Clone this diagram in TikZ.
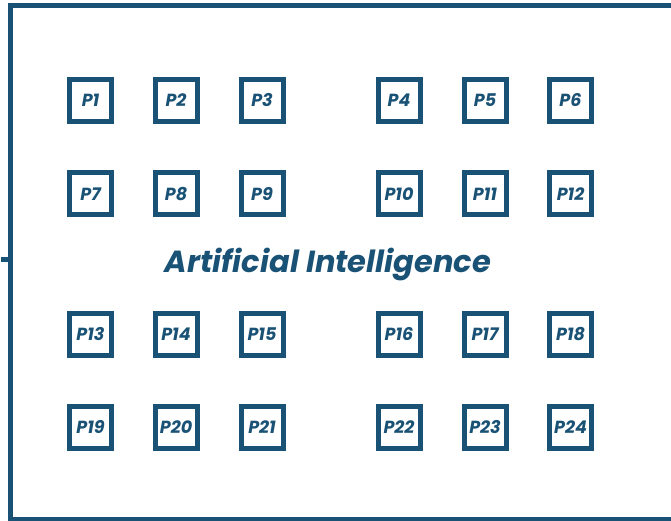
\documentclass[tikz,border=0pt]{standalone}
\usepackage{fontspec}
\setmainfont{Poppins}
\usepackage{tikz}
\usetikzlibrary{positioning}

\definecolor{aiblue}{HTML}{1A5276}

\tikzset{
	pbox/.style = {draw = aiblue, text = aiblue, line width = 5pt, rectangle, minimum size = 42pt, inner sep = 0pt, font = \fontsize{17.5}{17.5}\selectfont\bfseries\itshape},
	frame/.style = {draw = aiblue, line width = 5pt}
}

\begin{document}
\begin{tikzpicture}[x = 1pt, y = -1pt]
				\clip (0, 0) rectangle (671, 521);
				
				% Frame
				\draw[frame] (10, 5.8) rectangle (700, 519);
				\draw[frame] (1, 259) -- (10, 259);
				
				% Title
				\node[text = aiblue, font = \fontsize{30.5}{30.5}\selectfont\bfseries\itshape] (ai) at (328, 264) {Artificial Intelligence};
				
				% Nodes
				\node[pbox] (p1) at (90.5, 100.5) {P1};
				\node[pbox] (p2) at (176, 100.5) {P2};
				\node[pbox] (p3) at (262, 100.5) {P3};
				\node[pbox] (p4) at (399, 100.5) {P4};
				\node[pbox] (p5) at (485, 100.5) {P5};
				\node[pbox] (p6) at (570.5, 100.5) {P6};
				
				\node[pbox] (p7) at (90.5, 194) {P7};
				\node[pbox] (p8) at (176, 194) {P8};
				\node[pbox] (p9) at (262, 194) {P9};
				\node[pbox] (p10) at (399, 194) {P10};
				\node[pbox] (p11) at (485, 194) {P11};
				\node[pbox] (p12) at (570.5, 194) {P12};
				
				\node[pbox] (p13) at (90.5, 334) {P13};
				\node[pbox] (p14) at (176, 334) {P14};
				\node[pbox] (p15) at (262, 334) {P15};
				\node[pbox] (p16) at (399, 334) {P16};
				\node[pbox] (p17) at (485, 334) {P17};
				\node[pbox] (p18) at (570.5, 334) {P18};
				
				\node[pbox] (p19) at (90.5, 427) {P19};
				\node[pbox] (p20) at (176, 427) {P20};
				\node[pbox] (p21) at (262, 427) {P21};
				\node[pbox] (p22) at (399, 427) {P22};
				\node[pbox] (p23) at (485, 427) {P23};
				\node[pbox] (p24) at (570.5, 427) {P24};
			\end{tikzpicture}
\end{document}
